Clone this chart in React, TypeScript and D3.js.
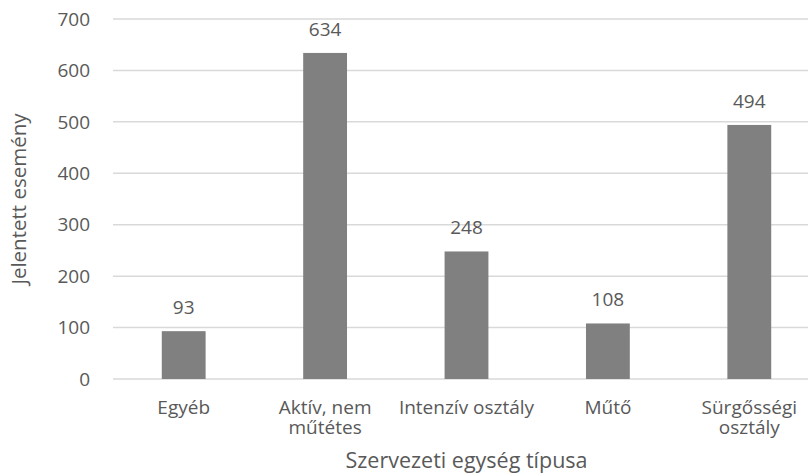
import React from "react";
import * as d3 from "d3";

// Reported events by organisational unit type
const categories: string[][] = [
  ["Egyéb"],
  ["Aktív, nem", "műtétes"],
  ["Intenzív osztály"],
  ["Műtő"],
  ["Sürgősségi", "osztály"],
];
const values: number[] = [93, 634, 248, 108, 494];
const yTicks: number[] = [0, 100, 200, 300, 400, 500, 600, 700];

const W = 808;
const H = 473;
const FONT = "'Open Sans', sans-serif";
const TEXT = "#595959";
const FS = 19;

export default function App() {
  const keys = categories.map((c) => c.join(" "));
  const x = d3
    .scaleBand<string>()
    .domain(keys)
    .range([113, 820])
    .paddingInner(0.69)
    .paddingOuter(0.345);
  const y = d3.scaleLinear().domain([0, 700]).range([379, 19]);

  return (
    <svg
      width={W}
      height={H}
      style={{ position: "absolute", left: 0, top: 0, background: "#fff" }}
      fontFamily={FONT}
    >
      {yTicks.map((t) => (
        <g key={t}>
          <line x1={113} x2={W} y1={y(t)} y2={y(t)} stroke="#d9d9d9" strokeWidth={1.5} />
          <text x={90} y={y(t)} dy="0.35em" textAnchor="end" fontSize={FS} fill={TEXT}>
            {t}
          </text>
        </g>
      ))}
      {values.map((v, i) => {
        const k = keys[i];
        const bx = x(k)!;
        const cx = bx + x.bandwidth() / 2;
        return (
          <g key={k}>
            <rect x={bx} y={y(v)} width={x.bandwidth()} height={y(0) - y(v)} fill="#808080" />
            <text x={cx} y={y(v) - 17} textAnchor="middle" fontSize={FS} fill={TEXT}>
              {v}
            </text>
            <text x={cx} y={414} textAnchor="middle" fontSize={FS} fill={TEXT}>
              {categories[i].map((line, j) => (
                <tspan key={j} x={cx} dy={j === 0 ? 0 : 19.5}>
                  {line}
                </tspan>
              ))}
            </text>
          </g>
        );
      })}
      <text
        transform={`translate(26,${(y(0) + y(700)) / 2}) rotate(-90)`}
        textAnchor="middle"
        fontSize={20.5}
        fill={TEXT}
      >
        Jelentett esemény
      </text>
      <text x={466.5} y={468} textAnchor="middle" fontSize={21.5} fill={TEXT}>
        Szervezeti egység típusa
      </text>
    </svg>
  );
}
